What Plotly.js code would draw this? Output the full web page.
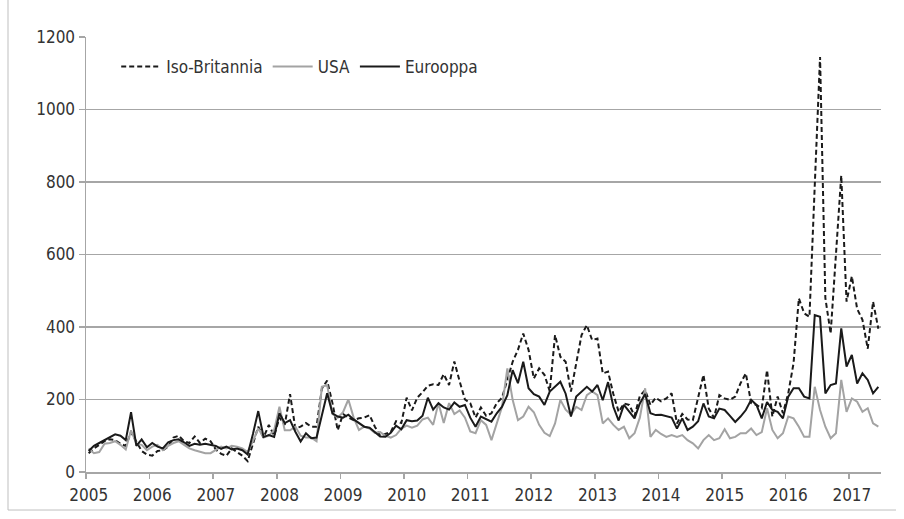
<!DOCTYPE html>
<html>
<head>
<meta charset="utf-8">
<script src="https://cdn.plot.ly/plotly-3.0.1.min.js"></script>
<style>
  html, body { margin: 0; padding: 0; background: #ffffff; }
  #chart { width: 904px; height: 519px; }
</style>
</head>
<body>
<div id="chart"></div>
<script>
// Monthly data, January 2005 - June 2017
const years = ['2005','2006','2007','2008','2009','2010','2011','2012','2013','2014','2015','2016','2017'];

const isoBritannia = [
  52, 65, 75, 85, 90, 88, 78, 72, 110, 82, 58, 48,
  45, 58, 60, 70, 95, 100, 85, 80, 98, 80, 92, 85,
  62, 50, 45, 65, 55, 45, 30, 75, 125, 95, 130, 100,
  150, 130, 215, 120, 125, 135, 125, 125, 230, 252, 190, 115,
  160, 150, 143, 148, 150, 157, 125, 100, 105, 110, 140, 135,
  205, 170, 205, 220, 238, 242, 240, 270, 240, 305, 250, 200,
  190, 150, 178, 155, 162, 190, 205, 254, 304, 337, 382, 337,
  258, 286, 268, 223, 378, 318, 304, 222, 300, 378, 405, 364,
  368, 272, 277, 215, 166, 189, 185, 155, 210, 226, 185, 205,
  195, 203, 217, 134, 160, 145, 143, 208, 268, 175, 150, 212,
  203, 199, 208, 245, 272, 190, 185, 176, 281, 153, 208, 162,
  217, 300, 479, 438, 428, 790, 1145, 480, 382, 600, 818, 470,
  540, 450, 420, 340, 470, 395
];

const usa = [
  65, 52, 55, 78, 80, 85, 75, 62, 115, 78, 75, 60,
  70, 75, 60, 72, 80, 85, 75, 65, 60, 55, 52, 52,
  62, 70, 65, 72, 70, 65, 55, 85, 120, 95, 100, 115,
  180, 115, 115, 125, 100, 95, 95, 85, 235, 240, 160, 150,
  165, 200, 150, 116, 125, 120, 108, 110, 100, 95, 102, 120,
  128, 122, 128, 145, 150, 130, 190, 135, 190, 160, 170, 150,
  112, 107, 143, 130, 88, 134, 180, 286, 199, 143, 153, 180,
  165, 130, 108, 99, 134, 199, 172, 158, 180, 171, 212, 222,
  212, 134, 148, 130, 116, 125, 93, 107, 150, 231, 97, 116,
  105, 97, 102, 97, 102, 88, 79, 65, 88, 102, 88, 93,
  118, 93, 97, 107, 107, 120, 102, 110, 176, 116, 93, 107,
  153, 148, 125, 97, 97, 235, 171, 125, 93, 107, 254, 166,
  203, 194, 166, 176, 134, 125
];

const eurooppa = [
  58, 72, 80, 88, 96, 104, 100, 88, 165, 72, 90, 68,
  80, 70, 65, 82, 88, 90, 82, 72, 78, 75, 78, 75,
  72, 64, 70, 62, 65, 60, 48, 105, 168, 97, 102, 97,
  162, 135, 143, 111, 84, 107, 93, 95, 153, 217, 162, 153,
  150, 158, 145, 135, 125, 122, 110, 98, 97, 108, 128, 118,
  143, 140, 142, 155, 205, 172, 190, 178, 172, 192, 180, 185,
  150, 125, 153, 145, 139, 162, 180, 212, 281, 245, 304, 231,
  215, 208, 185, 222, 235, 249, 216, 153, 208, 222, 235, 222,
  240, 198, 248, 180, 142, 185, 165, 148, 189, 215, 162, 157,
  158, 155, 150, 120, 148, 116, 125, 140, 189, 153, 148, 175,
  171, 155, 138, 153, 171, 199, 185, 148, 193, 171, 166, 148,
  208, 231, 231, 208, 203, 433, 428, 217, 240, 244, 396, 291,
  323, 244, 272, 254, 217, 235
];

const seriesNames = ['Iso-Britannia', 'USA', 'Eurooppa'];

const monthIndex = isoBritannia.map((_, i) => i);
const labelPos = years.map((_, k) => 12 * k);
const tickPos = years.map((_, k) => 12 * k - 0.5);

const FONT = '"DejaVu Sans Condensed", "Liberation Sans Narrow", "DejaVu Sans", sans-serif';
const GRID = '#a6a6a6';

const traces = [
  { x: monthIndex, y: isoBritannia, name: seriesNames[0], type: 'scatter', mode: 'lines',
    line: { color: '#1a1a1a', width: 2, dash: '5px,3px' } },
  { x: monthIndex, y: usa, name: seriesNames[1], type: 'scatter', mode: 'lines',
    line: { color: '#a3a3a3', width: 2 } },
  { x: monthIndex, y: eurooppa, name: seriesNames[2], type: 'scatter', mode: 'lines',
    line: { color: '#1a1a1a', width: 2 } },
  { x: [tickPos[0], monthIndex[monthIndex.length - 1] + 0.5], y: [null, null], xaxis: 'x2',
    type: 'scatter', mode: 'lines', showlegend: false, hoverinfo: 'skip' }
];

const range = [-0.5, monthIndex.length - 0.5];

const layout = {
  width: 904, height: 519,
  margin: { l: 86, r: 23, t: 37, b: 47 },
  paper_bgcolor: '#ffffff', plot_bgcolor: '#ffffff',
  font: { family: FONT, size: 17, color: '#333333' },
  showlegend: true,
  legend: {
    orientation: 'h', x: 0.038, xanchor: 'left', y: 0.931, yanchor: 'middle',
    font: { family: FONT, size: 17, color: '#333333' },
    bgcolor: 'rgba(0,0,0,0)', itemwidth: 40, tracegroupgap: 0
  },
  xaxis: {
    range: range, tickmode: 'array', tickvals: labelPos, ticktext: years,
    ticks: '', showgrid: false, zeroline: false,
    showline: true, linecolor: GRID, linewidth: 1.5,
    ticklabelstandoff: 7,
    tickfont: { family: FONT, size: 17, color: '#333333' }
  },
  xaxis2: {
    overlaying: 'x', anchor: 'y', range: range, tickmode: 'array', tickvals: tickPos,
    ticks: 'outside', ticklen: 6, tickwidth: 1.5, tickcolor: GRID,
    showticklabels: false, showgrid: false, zeroline: false, showline: false
  },
  yaxis: {
    range: [0, 1200], tickmode: 'array', tickvals: [0, 200, 400, 600, 800, 1000, 1200],
    showgrid: true, gridcolor: GRID, gridwidth: 1.5, zeroline: false,
    showline: true, linecolor: GRID, linewidth: 1.5,
    ticks: 'outside', ticklen: 6, tickwidth: 1.5, tickcolor: GRID,
    tickfont: { family: FONT, size: 17, color: '#333333' }
  },
  shapes: [
    { type: 'line', xref: 'paper', yref: 'paper', x0: -0.0981, x1: -0.0981, y0: -0.0874, y1: 1.1,
      line: { color: '#bfbfbf', width: 1 } },
    { type: 'line', xref: 'paper', yref: 'paper', x0: -0.0981, x1: 1.0189, y0: -0.0874, y1: -0.0874,
      line: { color: '#bfbfbf', width: 1 } }
  ]
};

Plotly.newPlot('chart', traces, layout, { displayModeBar: false, staticPlot: true });
</script>
</body>
</html>
